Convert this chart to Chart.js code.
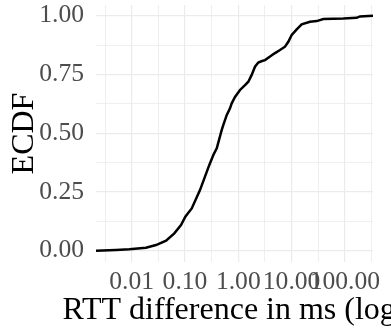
<!DOCTYPE html>
<html>
<head>
<meta charset="utf-8">
<script src="https://cdn.jsdelivr.net/npm/chart.js@4/dist/chart.umd.min.js"></script>
<style>
  html, body { margin: 0; padding: 0; background: #ffffff; }
  #wrap { width: 391px; height: 328px; }
</style>
</head>
<body>
<div id="wrap"><canvas id="c" width="391" height="328"></canvas></div>
<script>
// RTT difference (ms) sampled along the ECDF curve
const rttDiffMs = [0.00214, 0.00507, 0.00902, 0.0185, 0.0286, 0.0441, 0.0630, 0.0841, 0.1014, 0.1337,
  0.191, 0.237, 0.286, 0.340, 0.394, 0.489, 0.524, 0.605, 0.698, 0.752,
  0.867, 1.076, 1.337, 1.542, 1.782, 2.056, 2.371, 2.786, 3.170, 3.936,
  4.887, 6.053, 7.516, 8.670, 10.05, 12.47, 15.45, 22.13, 29.58, 39.36,
  93.3, 166.3, 191.9, 336.5];
const ecdf = [0.000, 0.003, 0.006, 0.013, 0.024, 0.043, 0.074, 0.109, 0.145, 0.180,
  0.258, 0.315, 0.365, 0.407, 0.436, 0.514, 0.535, 0.577, 0.606, 0.627,
  0.654, 0.684, 0.705, 0.719, 0.748, 0.783, 0.801, 0.807, 0.811, 0.826,
  0.841, 0.854, 0.868, 0.889, 0.918, 0.942, 0.963, 0.974, 0.977, 0.986,
  0.988, 0.991, 0.997, 1.000];
const xMajorTicks = [0.01, 0.1, 1, 10, 100];
const xMinorTicks = [Math.pow(10, -2.5), Math.pow(10, -1.5), Math.pow(10, -0.5), Math.pow(10, 0.5), Math.pow(10, 1.5), Math.pow(10, 2.5)];
const yMajorTicks = [0, 0.25, 0.5, 0.75, 1];
const yMinorTicks = [0.125, 0.375, 0.625, 0.875];
const xTitle = 'RTT difference in ms (log)';
const yTitle = 'ECDF';

const FONT = "'Liberation Serif', 'Times New Roman', serif";
const GRID = '#EBEBEB';

function isXMajor(v) { return xMajorTicks.some(m => Math.abs(Math.log10(m) - Math.log10(v)) < 1e-6); }
function isYMajor(v) { return yMajorTicks.some(m => Math.abs(m - v) < 1e-9); }

const points = rttDiffMs.map((x, i) => ({ x: x, y: ecdf[i] }));

// Draw the x-axis title without Chart.js squeezing it to the axis width
const xTitlePlugin = {
  id: 'xTitlePlugin',
  afterDraw(chart) {
    const ctx = chart.ctx;
    const area = chart.chartArea;
    ctx.save();
    ctx.font = "32px " + FONT;
    ctx.fillStyle = '#000000';
    ctx.textAlign = 'center';
    ctx.textBaseline = 'alphabetic';
    ctx.fillText(xTitle, (area.left + area.right) / 2, 318.5);
    ctx.restore();
  }
};

new Chart(document.getElementById('c'), {
  type: 'line',
  data: {
    datasets: [{
      data: points,
      borderColor: '#000000',
      borderWidth: 2.5,
      pointRadius: 0,
      tension: 0,
      fill: false
    }]
  },
  plugins: [xTitlePlugin],
  options: {
    responsive: false,
    devicePixelRatio: 1,
    animation: false,
    layout: { padding: { top: 5, right: 18, left: 0, bottom: 0 } },
    plugins: { legend: { display: false }, tooltip: { enabled: false } },
    scales: {
      x: {
        type: 'logarithmic',
        bounds: 'data',
        min: Math.pow(10, -2.670),
        max: Math.pow(10, 2.527),
        afterBuildTicks: (s) => {
          const all = xMajorTicks.concat(xMinorTicks).sort((a, b) => a - b);
          s.ticks = all.map(v => ({ value: v, major: isXMajor(v) }));
        },
        afterFit: (s) => { s.height = 66; s.paddingLeft = 0; s.paddingRight = 0; },
        border: { display: false },
        grid: {
          color: GRID,
          drawTicks: false,
          lineWidth: (ctx) => (ctx.tick && isXMajor(ctx.tick.value)) ? 1.2 : 0.8
        },
        ticks: {
          autoSkip: false,
          maxRotation: 0,
          minRotation: 0,
          padding: 5,
          color: '#4D4D4D',
          font: { family: FONT, size: 25.6 },
          callback: function(value) { return isXMajor(value) ? Number(value).toFixed(2) : ''; }
        },
        title: { display: false }
      },
      y: {
        type: 'linear',
        min: -0.048,
        max: 1.0455,
        afterBuildTicks: (s) => {
          const all = yMajorTicks.concat(yMinorTicks).sort((a, b) => a - b);
          s.ticks = all.map(v => ({ value: v }));
        },
        afterFit: (s) => { s.width = 96; s.paddingTop = 0; s.paddingBottom = 0; },
        border: { display: false },
        grid: {
          color: GRID,
          drawTicks: false,
          lineWidth: (ctx) => (ctx.tick && isYMajor(ctx.tick.value)) ? 1.2 : 0.8
        },
        ticks: {
          autoSkip: false,
          padding: 12,
          color: '#4D4D4D',
          font: { family: FONT, size: 25.6 },
          callback: function(value) { return isYMajor(value) ? Number(value).toFixed(2) : ''; }
        },
        title: {
          display: true,
          text: yTitle,
          color: '#000000',
          font: { family: FONT, size: 32 },
          padding: { top: 5, bottom: 0 }
        }
      }
    }
  }
});
</script>
</body>
</html>
